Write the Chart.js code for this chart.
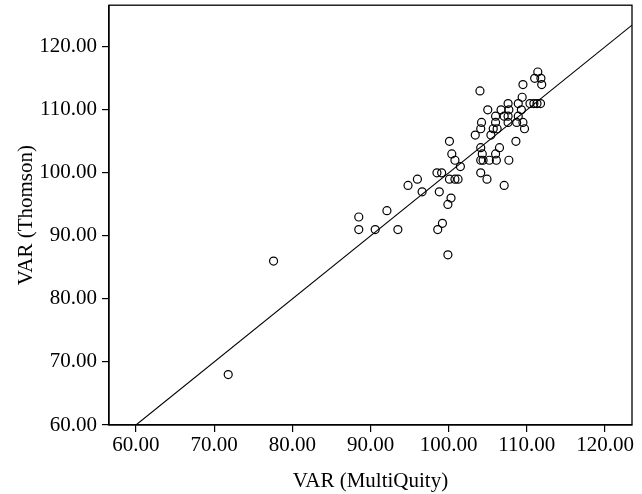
<!DOCTYPE html>
<html>
<head>
<meta charset="utf-8">
<script src="https://cdn.jsdelivr.net/npm/chart.js@4"></script>
<style>
  html, body { margin: 0; padding: 0; background: #fff; }
  #wrap { width: 642px; height: 494px; }
</style>
</head>
<body>
<div id="wrap"><canvas id="chart"></canvas></div>
<script>
// VAR values
var multiQuity = [71.8, 77.6, 88.5, 88.5, 90.6, 93.5, 92.1, 94.8, 96.0, 96.6,
    98.5, 99.1, 98.8, 99.2, 98.6, 99.9, 99.9, 100.3, 100.1, 100.8,
    101.2, 101.5, 100.8, 100.4, 100.1, 104.1, 104.9, 107.1, 104.1, 104.4,
    105.2, 106.1, 107.7, 104.3, 106.0, 104.1, 106.5, 108.6, 103.4, 105.4,
    104.1, 105.7, 106.2, 109.7, 104.2, 106.0, 107.6, 108.7, 109.5, 106.0,
    107.1, 107.6, 108.9, 105.0, 106.7, 107.7, 109.3, 107.6, 108.9, 110.4,
    110.9, 111.3, 111.75, 109.4, 104.0, 109.5, 111.9, 111.0, 111.8, 111.4];
var thomson = [68, 86, 93, 91, 91, 91, 94, 98, 99, 97,
    100, 100, 97, 92, 91, 87, 95, 96, 99, 99,
    99, 101, 102, 103, 105, 100, 99, 98, 102, 102,
    102, 102, 102, 103, 103, 104, 104, 105, 106, 106,
    107, 107, 107, 107, 108, 108, 108, 108, 108, 109,
    109, 109, 109, 110, 110, 110, 110, 111, 111, 111,
    111, 111, 111, 112, 113, 114, 114, 115, 115, 116];

// y = x reference line ends
var lineEnds = [60, 123.45];
var xTicks = [60, 70, 80, 90, 100, 110, 120];
var yTicks = [60, 70, 80, 90, 100, 110, 120];

var points = multiQuity.map(function (v, i) {
    return { x: v, y: thomson[i] };
});
var diag = lineEnds.map(function (v) {
    return { x: v, y: v };
});

// draws the full box round the plot
var frame = {
    id: 'frame',
    afterDraw: function (chart) {
        var a = chart.chartArea;
        var ctx = chart.ctx;
        ctx.save();
        ctx.strokeStyle = '#000';
        ctx.lineWidth = 1.3;
        ctx.strokeRect(a.left, a.top, a.right - a.left, a.bottom - a.top);
        ctx.restore();
    }
};

var font = { family: '"Liberation Serif", "DejaVu Serif", serif', size: 21 };

new Chart(document.getElementById('chart'), {
    type: 'scatter',
    data: {
        datasets: [
            {
                data: points,
                pointRadius: 4,
                pointBorderWidth: 1.2,
                pointBorderColor: '#000',
                pointBackgroundColor: 'rgba(0,0,0,0)',
                pointHoverRadius: 4
            },
            {
                type: 'line',
                data: diag,
                borderColor: '#000',
                borderWidth: 1.1,
                pointRadius: 0,
                fill: false
            }
        ]
    },
    plugins: [frame],
    options: {
        responsive: true,
        maintainAspectRatio: false,
        animation: false,
        layout: { padding: { top: 3, right: 10, left: 0, bottom: 0 } },
        plugins: {
            legend: { display: false },
            tooltip: { enabled: false }
        },
        scales: {
            x: {
                type: 'linear',
                min: 56.55,
                max: 123.45,
                afterBuildTicks: function (scale) {
                    scale.ticks = xTicks.map(function (v) { return { value: v }; });
                },
                afterFit: function (scale) {
                    scale.height = 69;
                    scale.paddingLeft = 0;
                    scale.paddingRight = 0;
                },
                grid: { drawOnChartArea: false, drawTicks: true, tickLength: 7, color: '#000', lineWidth: 1.2 },
                border: { display: true, color: '#000', width: 1.3 },
                ticks: {
                    color: '#000',
                    font: font,
                    padding: 1,
                    maxRotation: 0,
                    callback: function (v) { return Number(v).toFixed(2); }
                },
                title: {
                    display: true,
                    text: 'VAR (MultiQuity)',
                    color: '#000',
                    font: font,
                    padding: { top: 4, bottom: 0 }
                }
            },
            y: {
                type: 'linear',
                min: 60,
                max: 126.6,
                afterBuildTicks: function (scale) {
                    scale.ticks = yTicks.map(function (v) { return { value: v }; });
                },
                afterFit: function (scale) {
                    scale.width = 109;
                    scale.paddingTop = 0;
                    scale.paddingBottom = 0;
                },
                grid: { drawOnChartArea: false, drawTicks: true, tickLength: 7, color: '#000', lineWidth: 1.2 },
                border: { display: true, color: '#000', width: 1.3 },
                ticks: {
                    color: '#000',
                    font: font,
                    padding: 5,
                    callback: function (v) { return Number(v).toFixed(2); }
                },
                title: {
                    display: true,
                    text: 'VAR (Thomson)',
                    color: '#000',
                    font: font,
                    padding: { top: 14, bottom: 0 }
                }
            }
        }
    }
});
</script>
</body>
</html>
